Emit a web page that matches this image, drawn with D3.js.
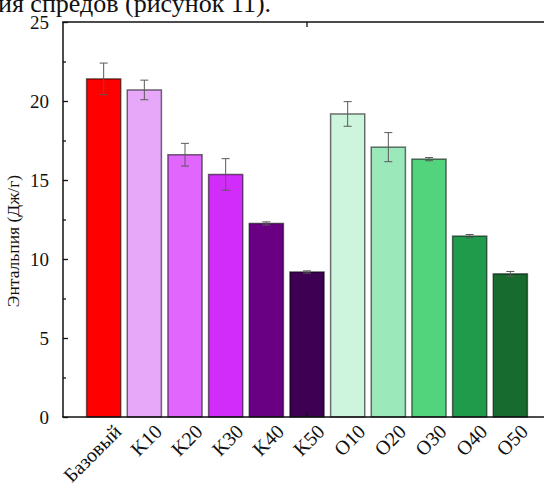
<!DOCTYPE html>
<html>
<head>
<meta charset="utf-8">
<script src="https://cdn.jsdelivr.net/npm/d3@7/dist/d3.min.js"></script>
<style>
  html, body { margin: 0; padding: 0; background: #fff; }
  svg { display: block; }
  text { font-family: "Liberation Serif", "Times New Roman", serif; fill: #111; }
</style>
</head>
<body>
<svg id="chart" width="544" height="485"></svg>
<script>
// Samples and measured enthalpy with standard deviation
const categories = ["Базовый", "K10", "K20", "K30", "K40", "K50", "O10", "O20", "O30", "O40", "O50"];
const enthalpy   = [21.4, 20.7, 16.6, 15.35, 12.25, 9.18, 19.18, 17.08, 16.32, 11.45, 9.06];
const stdDev     = [1.0, 0.62, 0.72, 1.0, 0.1, 0.07, 0.78, 0.92, 0.1, 0.1, 0.15];
const barColors  = ["#ff0000", "#e8a8fa", "#e066fe", "#d22cfb", "#690083", "#3d0052",
                    "#cdf4dc", "#9be8bb", "#52d47d", "#1f9b4b", "#176b2f"];
const yTicks     = [0, 5, 10, 15, 20, 25];
const yMinorTicks = [2.5, 7.5, 12.5, 17.5, 22.5];
const headerText = "ия спредов (рисунок 11).";
const yTitle     = "Энтальпия (Дж/г)";

const svg = d3.select("#chart");

const plotLeft = 63, plotTop = 22, plotBottom = 417, plotRight = 551;

const x = d3.scalePoint().domain(categories).range([plotLeft, plotRight]).padding(1);
const y = d3.scaleLinear().domain([0, 25]).range([plotBottom, plotTop]);
const barW = x.step() * 0.84;

// running text above the figure
svg.append("text")
  .attr("x", -2).attr("y", 12)
  .attr("font-size", 26)
  .text(headerText);

// bars
svg.append("g").selectAll("rect")
  .data(categories)
  .join("rect")
  .attr("x", d => x(d) - barW / 2)
  .attr("y", (d, i) => y(enthalpy[i]))
  .attr("width", barW)
  .attr("height", (d, i) => y(0) - y(enthalpy[i]))
  .attr("fill", (d, i) => barColors[i])
  .attr("stroke", "#000")
  .attr("stroke-opacity", 0.55)
  .attr("stroke-width", 1.5);

// error bars
const eb = svg.append("g").attr("stroke", "#5a5a5a").attr("stroke-width", 1);
categories.forEach((c, i) => {
  const cx = x(c), y1 = y(enthalpy[i] + stdDev[i]), y2 = y(enthalpy[i] - stdDev[i]);
  eb.append("line").attr("x1", cx).attr("x2", cx).attr("y1", y1).attr("y2", y2);
  eb.append("line").attr("x1", cx - 4).attr("x2", cx + 4).attr("y1", y1).attr("y2", y1);
  eb.append("line").attr("x1", cx - 4).attr("x2", cx + 4).attr("y1", y2).attr("y2", y2);
});

// frame: left axis, bottom axis, top border
const frame = svg.append("g").attr("stroke", "#111").attr("stroke-width", 1.5).attr("fill", "none");
frame.append("line").attr("x1", plotLeft).attr("x2", plotLeft).attr("y1", plotTop).attr("y2", plotBottom);
frame.append("line").attr("x1", plotLeft - 0.75).attr("x2", 544).attr("y1", plotBottom).attr("y2", plotBottom);
frame.append("line").attr("x1", plotLeft - 0.75).attr("x2", 544).attr("y1", plotTop).attr("y2", plotTop);

// y axis ticks (inward) and labels
const yAxis = d3.axisLeft(y).tickValues(yTicks).tickSizeInner(-5).tickSizeOuter(0).tickPadding(14);
const gy = svg.append("g").attr("transform", `translate(${plotLeft},0)`).call(yAxis);
gy.select(".domain").remove();
gy.selectAll(".tick line").attr("stroke", "#111").attr("stroke-width", 1.3);
gy.selectAll(".tick text")
  .attr("font-family", "Liberation Serif, Times New Roman, serif")
  .attr("font-size", 19).attr("fill", "#222");
const yMinor = d3.axisLeft(y).tickValues(yMinorTicks).tickSizeInner(-3).tickSizeOuter(0).tickFormat("");
const gym = svg.append("g").attr("transform", `translate(${plotLeft},0)`).call(yMinor);
gym.select(".domain").remove();
gym.selectAll(".tick line").attr("stroke", "#111").attr("stroke-width", 1.3);

// category tick on the bottom and top edges
const midCat = categories[5];
svg.append("line").attr("x1", x(midCat)).attr("x2", x(midCat))
  .attr("y1", plotBottom).attr("y2", plotBottom - 5).attr("stroke", "#111").attr("stroke-width", 1.3);
svg.append("line").attr("x1", x(midCat)).attr("x2", x(midCat))
  .attr("y1", plotTop).attr("y2", plotTop + 5).attr("stroke", "#111").attr("stroke-width", 1.3);

// category labels, rotated
svg.append("g").selectAll("text")
  .data(categories)
  .join("text")
  .attr("font-size", 20)
  .attr("fill", "#222")
  .attr("text-anchor", "end")
  .attr("transform", d => `translate(${x(d) + 9},${plotBottom + 6}) rotate(-45)`)
  .attr("dy", "0.7em")
  .text(d => d);

// y axis title
svg.append("text")
  .attr("transform", `translate(19,241) rotate(-90)`)
  .attr("text-anchor", "middle")
  .attr("font-size", 17.5)
  .attr("fill", "#333")
  .text(yTitle);
</script>
</body>
</html>
